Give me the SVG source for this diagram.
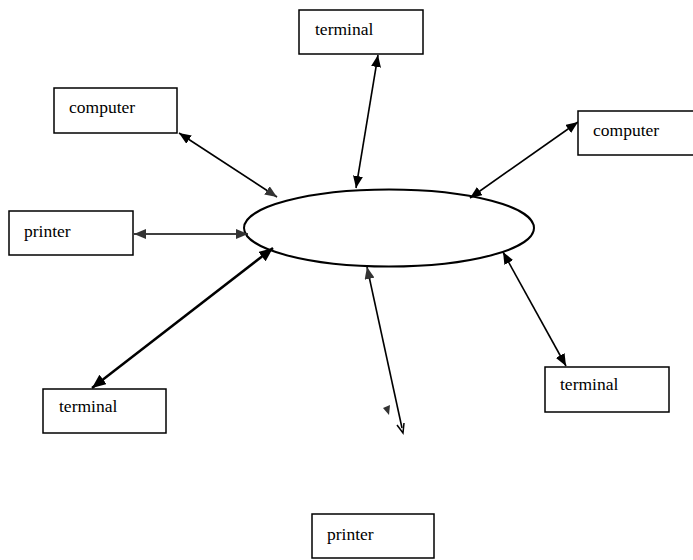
<svg xmlns="http://www.w3.org/2000/svg" width="693" height="560" viewBox="0 0 693 560">
<style>
.box{fill:#fff;stroke:#000;stroke-width:1.5}
.lbl{font-family:"Liberation Serif","Times New Roman",serif;font-size:17.5px;fill:#000}
.c{stroke:#000;stroke-width:1.6;fill:none}
.ct{stroke:#000;stroke-width:2.5;fill:none}
</style>
<defs>
<marker id="a" viewBox="0 0 12 10" refX="12" refY="5" markerWidth="12" markerHeight="10" markerUnits="userSpaceOnUse" orient="auto-start-reverse"><path d="M0,0 L12,5 L0,10 Z" fill="#000"/></marker>
<marker id="ag" viewBox="0 0 12 10" refX="12" refY="5" markerWidth="12" markerHeight="10" markerUnits="userSpaceOnUse" orient="auto-start-reverse"><path d="M0,0 L12,5 L0,10 Z" fill="#333"/></marker>
<marker id="ab" viewBox="0 0 14 12" refX="14" refY="6" markerWidth="14" markerHeight="12" markerUnits="userSpaceOnUse" orient="auto-start-reverse"><path d="M0,0 L14,6 L0,12 Z" fill="#000"/></marker>
</defs>
<g id="hub"><ellipse cx="389" cy="228" rx="145" ry="38.5" fill="#fff" stroke="#000" stroke-width="2"/></g>
<g id="connectors">
<line class="c" x1="179" y1="133" x2="277" y2="197" marker-start="url(#a)" marker-end="url(#ag)"/>
<line class="c" x1="134" y1="234" x2="248" y2="234" marker-start="url(#ag)" marker-end="url(#ag)"/>
<line class="ct" x1="92" y1="388" x2="273" y2="248" marker-start="url(#ab)" marker-end="url(#ab)"/>
<line class="c" x1="378" y1="55" x2="356" y2="188" marker-start="url(#a)" marker-end="url(#a)"/>
<line class="c" x1="578" y1="122" x2="470" y2="198" marker-start="url(#a)" marker-end="url(#a)"/>
<line class="c" x1="503" y1="252" x2="566" y2="366" marker-start="url(#a)" marker-end="url(#a)"/>
<line class="c" x1="367" y1="267" x2="402" y2="428" marker-start="url(#ag)" stroke-width="2"/>
<path d="M397,425 L403,433 L404,423" fill="none" stroke="#000" stroke-width="1.5"/>
<path d="M383,408 L390,405 L389,415 Z" fill="#333"/>
</g>
<g id="terminal-top"><rect class="box" x="299" y="10" width="124" height="44"/><text class="lbl" x="315" y="35">terminal</text></g>
<g id="computer-left"><rect class="box" x="54" y="88" width="123" height="45"/><text class="lbl" x="69" y="113">computer</text></g>
<g id="printer-left"><rect class="box" x="9" y="211" width="124" height="44"/><text class="lbl" x="24" y="237">printer</text></g>
<g id="computer-right"><rect class="box" x="578" y="111" width="124" height="44"/><text class="lbl" x="593" y="136">computer</text></g>
<g id="terminal-right"><rect class="box" x="545" y="367" width="124" height="45"/><text class="lbl" x="560" y="390">terminal</text></g>
<g id="terminal-left"><rect class="box" x="43" y="389" width="123" height="44"/><text class="lbl" x="59" y="412">terminal</text></g>
<g id="printer-bottom"><rect class="box" x="312" y="514" width="122" height="44"/><text class="lbl" x="327" y="540">printer</text></g>
</svg>
